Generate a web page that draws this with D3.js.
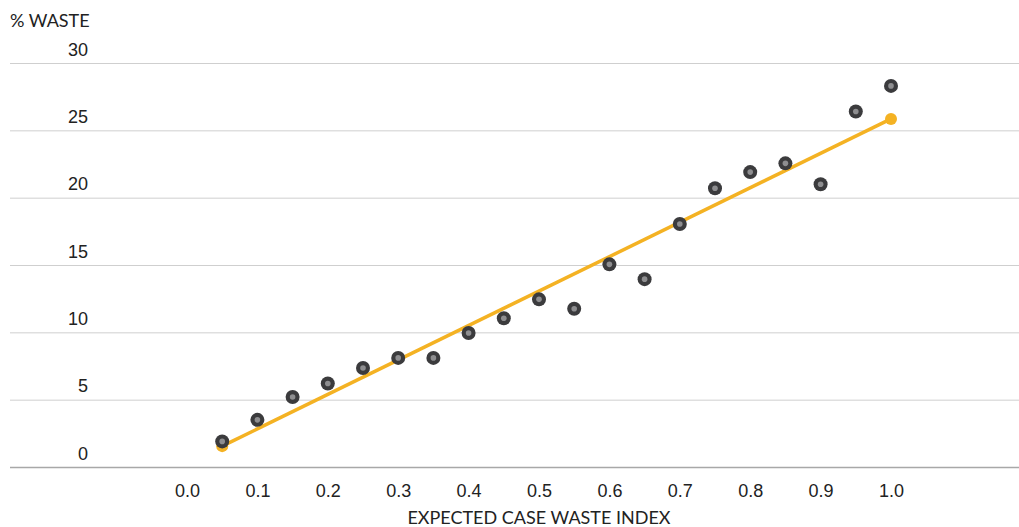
<!DOCTYPE html>
<html>
<head>
<meta charset="utf-8">
<script src="https://cdn.jsdelivr.net/npm/d3@7"></script>
<style>
  body { margin: 0; background: #fff; }
  svg { display: block; font-family: Lato, "Open Sans", sans-serif; }
</style>
</head>
<body>
<svg id="chart"></svg>
<script>
// scatter of % waste vs expected case waste index
var W = 1019;
var H = 527;

var xs = [0.05, 0.10, 0.15, 0.20, 0.25, 0.30, 0.35, 0.40, 0.45, 0.50,
          0.55, 0.60, 0.65, 0.70, 0.75, 0.80, 0.85, 0.90, 0.95, 1.00];
var waste = [1.9, 3.5, 5.2, 6.2, 7.35, 8.1, 8.1, 9.95, 11.05, 12.45,
             11.75, 15.05, 13.95, 18.05, 20.7, 21.9, 22.55, 21.0, 26.4, 28.3];
var fitX = [0.05, 1.00];
var fitY = [1.55, 25.85];
var xTicks = [0, 0.1, 0.2, 0.3, 0.4, 0.5, 0.6, 0.7, 0.8, 0.9, 1.0];
var yTicks = [0, 5, 10, 15, 20, 25, 30];

var points = xs.map((d, i) => ({x: d, y: waste[i]}));
var fit = fitX.map((d, i) => ({x: d, y: fitY[i]}));

var svg = d3.select("#chart")
  .attr("width", W)
  .attr("height", H);

var x = d3.scaleLinear()
  .domain([0, 1])
  .range([187, 891]);

var y = d3.scaleLinear()
  .domain([0, 30])
  .range([467, 63]);

// gridlines + y labels
var yAxis = g => g
  .attr("transform", "translate(10,0)")
  .call(d3.axisRight(y).tickValues(yTicks).tickSize(W - 10).tickFormat(d3.format("d")))
  .call(g => g.select(".domain").remove())
  .call(g => g.selectAll(".tick line")
    .attr("stroke", d => d === 0 ? "#a8a8a8" : "#cfcfcf")
    .attr("stroke-width", d => d === 0 ? 1.5 : 1))
  .call(g => g.selectAll(".tick text")
    .attr("x", 78)
    .attr("dy", -8)
    .attr("text-anchor", "end")
    .attr("fill", "#222")
    .style("font-size", "18px"));

svg.append("g").call(yAxis);

var xAxis = g => g
  .attr("transform", "translate(0,467)")
  .call(d3.axisBottom(x).tickValues(xTicks).tickSize(0).tickFormat(d3.format(".1f")))
  .call(g => g.select(".domain").remove())
  .call(g => g.selectAll(".tick text")
    .attr("y", 17)
    .attr("fill", "#222")
    .style("font-size", "18px"));

svg.append("g").call(xAxis);

svg.append("text")
  .attr("x", 10)
  .attr("y", 27)
  .attr("fill", "#222")
  .style("font-size", "18px")
  .text("% WASTE");

svg.append("text")
  .attr("x", 539)
  .attr("y", 524)
  .attr("text-anchor", "middle")
  .attr("fill", "#222")
  .style("font-size", "18px")
  .text("EXPECTED CASE WASTE INDEX");

// fitted line
var line = d3.line()
  .x(d => x(d.x))
  .y(d => y(d.y));

svg.append("path")
  .datum(fit)
  .attr("fill", "none")
  .attr("stroke", "#f4b223")
  .attr("stroke-width", 3.5)
  .attr("d", line);

svg.selectAll(".fitdot")
  .data(fit)
  .enter()
  .append("circle")
  .attr("class", "fitdot")
  .attr("cx", d => x(d.x))
  .attr("cy", d => y(d.y))
  .attr("r", 6)
  .attr("fill", "#f4b223");

// data points
var pt = svg.selectAll(".pt")
  .data(points)
  .enter()
  .append("g")
  .attr("class", "pt")
  .attr("transform", d => `translate(${x(d.x)},${y(d.y)})`);

pt.append("circle")
  .attr("r", 7)
  .attr("fill", "#3b3b3d");

pt.append("circle")
  .attr("r", 2.8)
  .attr("fill", "#8e8e90");
</script>
</body>
</html>
